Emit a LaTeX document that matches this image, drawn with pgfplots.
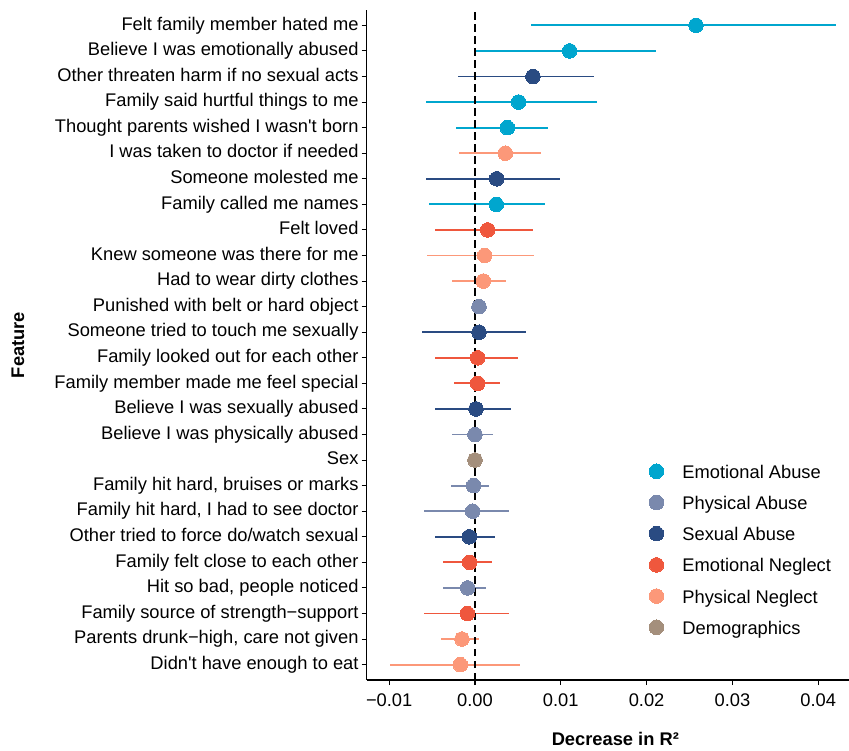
\documentclass[border=0pt]{standalone}
\usepackage{fontspec}
\setmainfont{Liberation Sans}
\usepackage{pgfplots}
\usepackage{pgfplotstable}
\pgfplotsset{compat=1.18}
\definecolor{cEA}{RGB}{0,166,206}
\definecolor{cPA}{RGB}{122,137,173}
\definecolor{cSA}{RGB}{42,75,130}
\definecolor{cEN}{RGB}{239,87,61}
\definecolor{cPN}{RGB}{252,152,121}
\definecolor{cDM}{RGB}{164,143,124}

\pgfplotstableread{
y x lo hi
26 0.02576 0.00653 0.04207
25 0.01103 0.00010 0.02113
23 0.00509 -0.00575 0.01422
22 0.00377 -0.00221 0.00851
19 0.00248 -0.00536 0.00816
}\tEA
\pgfplotstableread{
y x lo hi
15 0.00047 0.00047 0.00047
10 0.00000 -0.00268 0.00206
8 -0.00016 -0.00280 0.00160
7 -0.00027 -0.00591 0.00392
4 -0.00085 -0.00373 0.00132
}\tPA
\pgfplotstableread{
y x lo hi
24 0.00676 -0.00194 0.01383
20 0.00253 -0.00571 0.00987
14 0.00047 -0.00621 0.00591
11 0.00012 -0.00462 0.00416
6 -0.00066 -0.00462 0.00237
}\tSA
\pgfplotstableread{
y x lo hi
18 0.00148 -0.00462 0.00672
13 0.00031 -0.00466 0.00497
12 0.00031 -0.00249 0.00287
5 -0.00062 -0.00373 0.00202
3 -0.00089 -0.00598 0.00392
}\tEN
\pgfplotstableread{
y x lo hi
21 0.00353 -0.00183 0.00769
17 0.00113 -0.00560 0.00684
16 0.00097 -0.00268 0.00361
2 -0.00152 -0.00396 0.00043
1 -0.00171 -0.00995 0.00524
}\tPN
\pgfplotstableread{
y x lo hi
9 0.00000 0.00000 0.00000
}\tDM

\pgfplotsset{
  whisk/.style={forget plot, only marks, mark=none,
    error bars/.cd, x dir=both, x explicit, error mark=none,
    error bar style={line width=1.9pt, color=#1, solid}},
  dot/.style={only marks, mark=*, mark size=7.3pt, color=#1, mark options={draw=#1, fill=#1, line width=0pt}},
}

\begin{document}
\begin{tikzpicture}
\begin{axis}[
  at={(0pt,0pt)}, anchor=south west,
  width=482.3pt, height=670pt, scale only axis,
  xmin=-0.01262, xmax=0.04359, ymin=0.4, ymax=26.6,
  axis lines*=left,
  axis line style={line width=1.1pt, black},
  tick style={line width=1.1pt, black},
  major tick length=5pt, tick align=outside,
  xtick={-0.01,0,0.01,0.02,0.03,0.04},
  xticklabels={−0.01,0.00,0.01,0.02,0.03,0.04},
  scaled x ticks=false,
  ytick={1,...,26},
  yticklabels={
    Didn\textquotesingle t have enough to eat,
    {Parents drunk−high, care not given},
    Family source of strength−support,
    {Hit so bad, people noticed},
    Family felt close to each other,
    Other tried to force do/watch sexual,
    {Family hit hard, I had to see doctor},
    {Family hit hard, bruises or marks},
    Sex,
    Believe I was physically abused,
    Believe I was sexually abused,
    Family member made me feel special,
    Family looked out for each other,
    Someone tried to touch me sexually,
    Punished with belt or hard object,
    Had to wear dirty clothes,
    Knew someone was there for me,
    Felt loved,
    Family called me names,
    Someone molested me,
    I was taken to doctor if needed,
    Thought parents wished I wasn\textquotesingle t born,
    Family said hurtful things to me,
    Other threaten harm if no sexual acts,
    Believe I was emotionally abused,
    Felt family member hated me},
  tick label style={font=\fontsize{18.3}{21}\selectfont, black},
  yticklabel style={inner xsep=3pt, text height=12.5pt, text depth=3pt},
  xticklabel style={inner ysep=9pt},
  xlabel={Decrease in R²},
  ylabel={Feature},
  label style={font=\fontsize{18.3}{21}\selectfont\bfseries},
  xlabel style={at={(axis description cs:0.5155,-0.0885)}, anchor=center},
  ylabel style={at={(axis description cs:-0.723,0.5)}, anchor=center},
  legend style={at={(axis cs:0.0203,8.98)}, anchor=north west, draw=none, fill=none,
    inner sep=0pt, outer sep=0pt,
    font=\fontsize{18.3}{21}\selectfont, row sep=9.5pt,
    nodes={inner xsep=2pt, inner ysep=0pt, text height=13pt, text depth=4pt}},
  legend cell align=left,
  legend image code/.code={\path (0pt,-5pt) (30.8pt,13pt);\draw[#1] plot coordinates {(7pt,2.5pt)};},
  clip=false,
]
\addplot[whisk=cEA] table[x=x, y=y, x error plus expr=\thisrow{hi}-\thisrow{x}, x error minus expr=\thisrow{x}-\thisrow{lo}]{\tEA};
\addplot[whisk=cPA] table[x=x, y=y, x error plus expr=\thisrow{hi}-\thisrow{x}, x error minus expr=\thisrow{x}-\thisrow{lo}]{\tPA};
\addplot[whisk=cSA] table[x=x, y=y, x error plus expr=\thisrow{hi}-\thisrow{x}, x error minus expr=\thisrow{x}-\thisrow{lo}]{\tSA};
\addplot[whisk=cEN] table[x=x, y=y, x error plus expr=\thisrow{hi}-\thisrow{x}, x error minus expr=\thisrow{x}-\thisrow{lo}]{\tEN};
\addplot[whisk=cPN] table[x=x, y=y, x error plus expr=\thisrow{hi}-\thisrow{x}, x error minus expr=\thisrow{x}-\thisrow{lo}]{\tPN};
\addplot[forget plot, black, line width=1.8pt, dash pattern=on 7.5pt off 4.5pt] coordinates {(0,0.4) (0,26.6)};
\addplot[dot=cEA] table[x=x,y=y]{\tEA};
\addlegendentry{Emotional Abuse}
\addplot[dot=cPA] table[x=x,y=y]{\tPA};
\addlegendentry{Physical Abuse}
\addplot[dot=cSA] table[x=x,y=y]{\tSA};
\addlegendentry{Sexual Abuse}
\addplot[dot=cEN] table[x=x,y=y]{\tEN};
\addlegendentry{Emotional Neglect}
\addplot[dot=cPN] table[x=x,y=y]{\tPN};
\addlegendentry{Physical Neglect}
\addplot[dot=cDM] table[x=x,y=y]{\tDM};
\addlegendentry{Demographics}
\end{axis}
\pgfresetboundingbox
\path[use as bounding box] (-366.7pt,-70pt) rectangle (482.3pt,680pt);
\end{tikzpicture}
\end{document}
